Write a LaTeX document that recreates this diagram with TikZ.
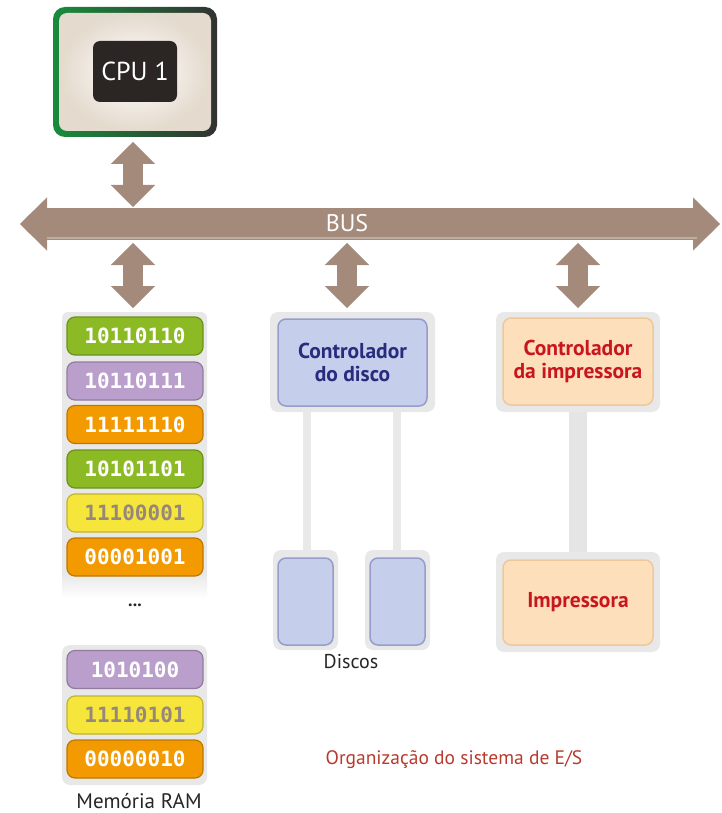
\documentclass[tikz,border=0pt]{standalone}
\usepackage{fontspec}
\setmainfont{PT Sans}
\newfontfamily\monof{DejaVu Sans Mono}
\usetikzlibrary{arrows.meta,calc}
\definecolor{arrowc}{RGB}{164,138,123}
\definecolor{cgreen}{RGB}{139,186,36}
\definecolor{cpurple}{RGB}{186,158,204}
\definecolor{corange}{RGB}{243,154,0}
\definecolor{cyellow}{RGB}{246,230,60}
\definecolor{ytext}{RGB}{150,135,125}
\definecolor{boxblue}{RGB}{197,206,235}
\definecolor{navy}{RGB}{40,44,125}
\definecolor{peach}{RGB}{253,224,187}
\definecolor{dred}{RGB}{200,22,30}
\definecolor{capred}{RGB}{184,58,46}
\definecolor{panelg}{RGB}{232,232,232}
\definecolor{cpugreen}{RGB}{24,140,60}
\definecolor{cpudark}{RGB}{50,50,50}
\definecolor{cpubox}{RGB}{43,38,36}
\definecolor{cpubeige}{RGB}{228,218,205}
\newcommand{\ramfont}{\monof\bfseries\fontsize{21}{21}\selectfont}
\newcommand{\labfont}{\bfseries\fontsize{21.5}{23}\selectfont}
\tikzset{
  vbus/.style={draw=arrowc, line width=20pt,
    {Triangle[length=22pt,width=44pt,line width=0.1pt]}-{Triangle[length=22pt,width=44pt,line width=0.1pt]}},
  hbus/.style={draw=arrowc, line width=32pt,
    {Triangle[length=27pt,width=53pt,line width=0.1pt]}-{Triangle[length=27pt,width=53pt,line width=0.1pt]}},
  ramcell/.style={rounded corners=8pt, minimum width=136pt, minimum height=38pt, inner sep=0pt,
    font=\ramfont, text=white, fill=#1, draw=#1!78!black, line width=1.2pt},
  panel/.style={rounded corners=8pt, fill=panelg, draw=none, inner sep=0pt},
  innerbox/.style={rounded corners=8pt, inner sep=0pt, line width=1.5pt, font=\labfont, align=center},
  conn/.style={draw=gray!17, line width=8pt},
  wideconn/.style={draw=gray!20, line width=18pt},
}
\begin{document}
\begin{tikzpicture}[x=1pt,y=-1pt]
\useasboundingbox (0,0) rectangle (722,813);

% CPU
\node[rounded corners=12pt, minimum width=164pt, minimum height=130pt, inner sep=0pt,
  left color=cpugreen, middle color=cpugreen!65!cpudark, right color=cpudark] (cpu) at (135,72) {};
\node[rounded corners=8pt, minimum width=152pt, minimum height=118pt, inner sep=0pt,
  inner color=white, outer color=cpubeige] (cpuin) at (135,72) {};
\node[rounded corners=7pt, minimum width=84pt, minimum height=61pt, inner sep=0pt,
  fill=cpubox, text=white, font=\fontsize{26}{26}\selectfont] (chip) at (135,71.5) {CPU 1};

% BUS
\coordinate (busL) at (20,224);
\coordinate (busR) at (720,224);
\draw[hbus] (busL) -- (busR);
\draw[white, opacity=0.3, line width=1.2pt] (47,238) -- (697,238);
\node[text=white, font=\fontsize{24}{24}\selectfont, inner sep=0pt] (bus) at (347,223) {BUS};

% arrows to bus
\coordinate (a1t) at (133,142); \coordinate (a1b) at (133,207);
\coordinate (a2t) at (133,243); \coordinate (a2b) at (133,308);
\coordinate (a3t) at (347,243); \coordinate (a3b) at (347,308);
\coordinate (a4t) at (578,243); \coordinate (a4b) at (578,308);
\draw[vbus] (a1t) -- (a1b);
\draw[vbus] (a2t) -- (a2b);
\draw[vbus] (a3t) -- (a3b);
\draw[vbus] (a4t) -- (a4b);

% RAM
\fill[panelg, rounded corners=6pt] (62,312) rectangle (207,582);
\shade[top color=panelg, bottom color=white] (62,574) rectangle (207,598);
\node[ramcell=cgreen] (r1) at (135,336) {10110110};
\node[ramcell=cpurple] (r2) at (135,381) {10110111};
\node[ramcell=corange] (r3) at (135,424.5) {11111110};
\node[ramcell=cgreen] (r4) at (135,469) {10101101};
\node[ramcell=cyellow, text=ytext] (r5) at (135,513) {11100001};
\node[ramcell=corange] (r6) at (135,557) {00001001};
\node[font=\bfseries\fontsize{18}{18}\selectfont, text=black!85] (dots) at (135,605) {...};
\node[panel, minimum width=145pt, minimum height=140pt] (rp2) at (134.5,715) {};
\node[ramcell=cpurple] (r7) at (135,669.5) {1010100};
\node[ramcell=cyellow, text=ytext] (r8) at (135,715) {11110101};
\node[ramcell=corange] (r9) at (135,759) {00000010};
\node[font=\fontsize{21}{21}\selectfont, text=black!85, inner sep=0pt] (ramlab) at (139,801) {Memória RAM};

% Disk controller
\node[panel, minimum width=165pt, minimum height=100pt] (dcp) at (352.5,362) {};
\node[innerbox, fill=boxblue, draw=boxblue!70!navy, minimum width=149pt, minimum height=87pt, text=navy]
  (dc) at (352.5,362.5) {Controlador\\do disco};
\node[panel, minimum width=65pt, minimum height=100pt] (d1p) at (305.5,600) {};
\node[innerbox, fill=boxblue, draw=boxblue!70!navy, minimum width=55pt, minimum height=87pt] (d1) at (305.5,601.5) {};
\node[panel, minimum width=65pt, minimum height=100pt] (d2p) at (397.5,600) {};
\node[innerbox, fill=boxblue, draw=boxblue!70!navy, minimum width=55pt, minimum height=87pt] (d2) at (397.5,601.5) {};
\draw[conn] (dcp.south -| 307,0) -- (d1p.north -| 307,0);
\draw[conn] (dcp.south -| 397,0) -- (d2p.north -| 397,0);
\node[font=\fontsize{20}{20}\selectfont, text=black!85] (discos) at (351,662) {Discos};

% Printer controller
\node[panel, minimum width=164pt, minimum height=100pt] (pcp) at (578,362) {};
\node[innerbox, fill=peach, draw=peach!75!brown, minimum width=150pt, minimum height=87pt, text=dred]
  (pc) at (578,361.5) {Controlador\\da impressora};
\node[panel, minimum width=164pt, minimum height=100pt] (prp) at (578,602) {};
\node[innerbox, fill=peach, draw=peach!75!brown, minimum width=150pt, minimum height=85pt, text=dred]
  (pr) at (578,602.5) {Impressora};
\draw[wideconn] (pcp.south) -- (prp.north);

% caption
\node[font=\fontsize{19.5}{19.5}\selectfont, text=capred] (cap) at (454,760) {Organização do sistema de E/S};
\end{tikzpicture}
\end{document}
